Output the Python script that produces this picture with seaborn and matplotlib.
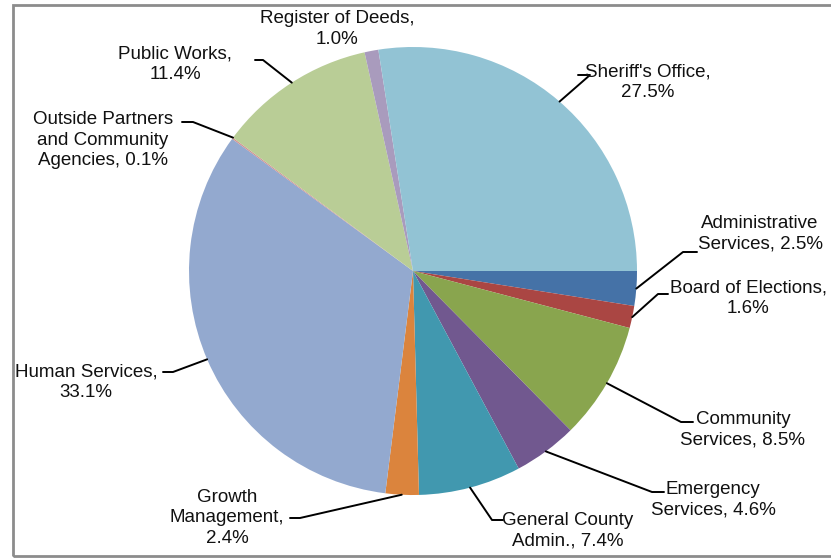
import numpy as np
import matplotlib
matplotlib.use("Agg")
import matplotlib.pyplot as plt
import seaborn as sns
from matplotlib.patches import Rectangle

sns.set_theme(style="white")
plt.rcParams['font.family'] = ['Liberation Sans Narrow', 'Liberation Sans', 'DejaVu Sans']

# data
departments = ['Administrative Services', 'Board of Elections', 'Community Services',
               'Emergency Services', 'General County Admin.', 'Growth Management',
               'Human Services', 'Outside Partners and Community Agencies',
               'Public Works', 'Register of Deeds', "Sheriff's Office"]
shares = [2.5, 1.6, 8.5, 4.6, 7.4, 2.4, 33.1, 0.1, 11.4, 1.0, 27.5]
label_text = ['Administrative\nServices, 2.5%', 'Board of Elections,\n1.6%',
              'Community\nServices, 8.5%', 'Emergency\nServices, 4.6%',
              'General County\nAdmin., 7.4%', 'Growth\nManagement,\n2.4%',
              'Human Services,\n33.1%', 'Outside Partners\nand Community\nAgencies, 0.1%',
              'Public Works,\n11.4%', 'Register of Deeds,\n1.0%', "Sheriff's Office,\n27.5%"]
colors = ['#4572A7', '#AA4643', '#89A54E', '#71588F', '#4198AF', '#DB843D',
          '#93A9CF', '#D19392', '#B9CD96', '#A99BBD', '#92C3D4']

# layout in pixels: text centre, elbow, line end (None = no leader)
W, H = 831, 559
CX, CY, R = 413, 271, 224
layout = [
    ((760, 234), (683, 252), (697, 252)),
    ((748, 298), (658, 294), (668, 294)),
    ((743, 430), (681, 422), (693, 422)),
    ((713, 500), (652, 492), (664, 492)),
    ((568, 531), (492, 520), (503, 520)),
    ((227, 518), (300, 518), (290, 518)),
    ((86, 382), (173, 372), (163, 372)),
    ((103, 140), (193, 122), (182, 122)),
    ((175, 64), (263, 60), (255, 60)),
    ((337, 29), None, None),
    ((648, 82), (590, 75), (578, 75)),
]


def px(p):
    return ((p[0] - CX) / R, (CY - p[1]) / R)


fig = plt.figure(figsize=(W / 100, H / 100), dpi=100)
ax = fig.add_axes([0, 0, 1, 1])
ax.pie(shares, colors=colors, startangle=0, counterclock=False, radius=1,
       wedgeprops=dict(linewidth=0))
ax.set_xlim(-CX / R, (W - CX) / R)
ax.set_ylim(-(H - CY) / R, CY / R)
ax.set_aspect('equal')
ax.axis('off')

cum = np.cumsum([0] + shares[:-1])
for i, (s, c0) in enumerate(zip(shares, cum)):
    ang = -np.deg2rad((c0 + s / 2) / 100 * 360)
    edge = (np.cos(ang), np.sin(ang))
    tpos, elbow, end = layout[i]
    tx, ty = px(tpos)
    ax.text(tx, ty, label_text[i], ha='center', va='center', fontsize=13.5,
            color='#111111', linespacing=1.25)
    if elbow is not None:
        e = px(elbow)
        n = px(end)
        ax.plot([edge[0], e[0], n[0]], [edge[1], e[1], n[1]], color='black', lw=1.4)

# outer frame (runs off the right edge)
fig.patches.append(Rectangle((13 / W, 3 / H), (W + 20) / W, (H - 8) / H,
                             transform=fig.transFigure, fill=False,
                             edgecolor='#8c8c8c', lw=2))

fig.savefig('out.png', dpi=100)
